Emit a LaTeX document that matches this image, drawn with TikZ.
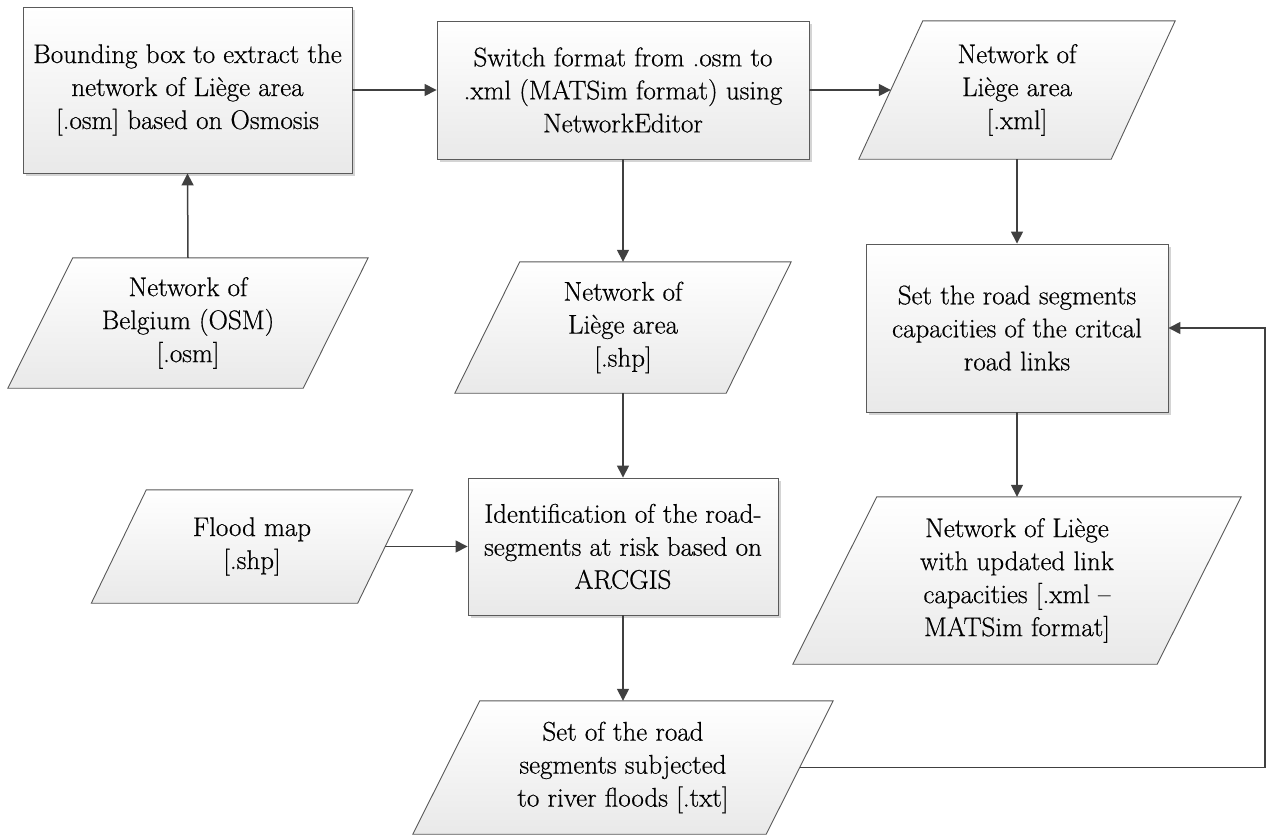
\documentclass[tikz,border=0pt]{standalone}
\usepackage{fontspec}
\newfontfamily\diagfont{Latin Modern Roman}[FakeBold=0.5]
\usetikzlibrary{arrows.meta,calc,shadows,backgrounds}
\definecolor{linecol}{HTML}{404040}
\definecolor{bordercol}{HTML}{5A5A5A}
\definecolor{boxbot}{HTML}{E9E9E9}
\definecolor{shadowcol}{HTML}{D4D4D4}
\tikzset{
  txt/.style={font=\diagfont\fontsize{27}{33}\selectfont, align=center, inner sep=0pt, text=black},
  procbox/.style={txt, draw=bordercol, line width=0.9pt, top color=white, bottom color=boxbot,
    drop shadow={shadow xshift=2.5pt, shadow yshift=-2.5pt, fill=shadowcol, opacity=1}},
  paratext/.style={txt, draw=none},
  paraborder/.style={draw=bordercol, line width=0.9pt, top color=white, bottom color=boxbot},
  arr/.style={draw=linecol, line width=1.5pt, -{Triangle[length=12pt,width=12pt]}},
}
\newcommand\paranode[7]{%
  \node[paratext, minimum width=#4pt, minimum height=#5pt] (#1) at (#2,#3) {#7};
  \begin{pgfonlayer}{background}
    \path[fill=shadowcol, shift={(2.5pt,-2.5pt)}]
      ($(#1.north west)+(#6/2,0)$) -- ($(#1.north east)+(#6/2,0)$) --
      ($(#1.south east)-(#6/2,0)$) -- ($(#1.south west)-(#6/2,0)$) -- cycle;
    \path[paraborder]
      ($(#1.north west)+(#6/2,0)$) -- ($(#1.north east)+(#6/2,0)$) --
      ($(#1.south east)-(#6/2,0)$) -- ($(#1.south west)-(#6/2,0)$) -- cycle;
  \end{pgfonlayer}%
}
\begin{document}
\begin{tikzpicture}[x=1pt,y=-1pt]
\useasboundingbox (0,0) rectangle (1266,835);

% process boxes
\node[procbox, minimum width=329pt, minimum height=166pt] (bbox) at (187.5,90)
  {Bounding box to extract the\\network of Liège area\\{}[.osm] based on Osmosis};
\node[procbox, minimum width=372pt, minimum height=138pt] (switch) at (623,90)
  {Switch format from .osm to\\.xml (MATSim format) using\\NetworkEditor};
\node[procbox, minimum width=302pt, minimum height=168pt] (setcap) at (1017,328)
  {Set the road segments\\capacities of the critcal\\road links};
\node[procbox, minimum width=310pt, minimum height=137pt] (ident) at (623,546.5)
  {Identification of the road-\\segments at risk based on\\ARCGIS};

% data parallelograms
\paranode{belgium}{188}{323}{295}{130}{65}{Network of\\Belgium (OSM)\\{}[.osm]}
\paranode{xmlnet}{1017}{90}{252}{138}{64}{Network of\\Liège area\\{}[.xml]}
\paranode{shpnet}{623}{327.5}{271}{131}{65}{Network of\\Liège area\\{}[.shp]}
\paranode{flood}{252}{546.5}{266}{113}{55}{Flood map\\{}[.shp]}
\paranode{floodset}{623}{767.5}{353}{133}{67}{Set of the road\\segments subjected\\to river floods [.txt]}
\paranode{updated}{1017}{580.5}{364}{167}{84}{Network of Liège\\with updated link\\capacities [.xml –\\MATSim format]}

\coordinate (fb) at (1265,0);

% connectors
\draw[arr] (belgium.north) -- (bbox.south);
\draw[arr] (bbox.east) -- (switch.west);
\draw[arr] (switch.east) -- (xmlnet.west);
\draw[arr] (switch.south) -- (shpnet.north);
\draw[arr] (shpnet.south) -- (ident.north);
\draw[arr] (flood.east) -- (ident.west);
\draw[arr] (ident.south) -- (floodset.north);
\draw[arr] (xmlnet.south) -- (setcap.north);
\draw[arr] (setcap.south) -- (updated.north);
\draw[arr] (floodset.east) -| (fb |- setcap.east) -- (setcap.east);
\end{tikzpicture}
\end{document}
